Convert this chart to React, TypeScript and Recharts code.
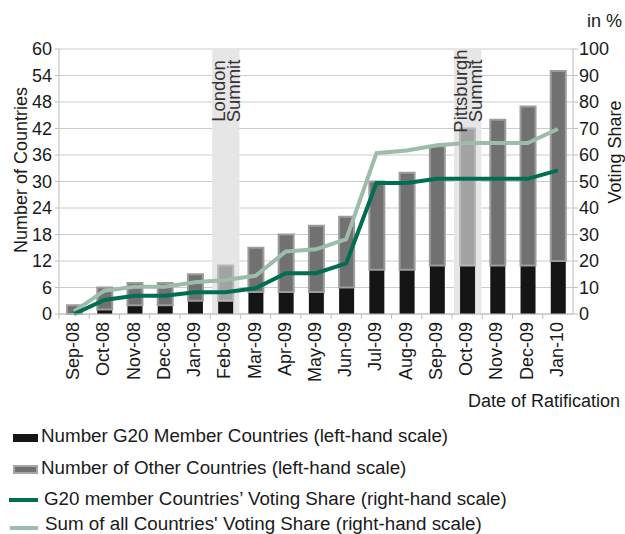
import React from "react";
import {
  ComposedChart,
  Bar,
  Line,
  XAxis,
  YAxis,
  CartesianGrid,
  Cell,
  LabelList,
} from "recharts";

// Monthly ratification counts and cumulative voting shares.
const months = [
  "Sep-08", "Oct-08", "Nov-08", "Dec-08", "Jan-09", "Feb-09", "Mar-09", "Apr-09", "May-09",
  "Jun-09", "Jul-09", "Aug-09", "Sep-09", "Oct-09", "Nov-09", "Dec-09", "Jan-10",
];
const g20Count = [0, 1, 2, 2, 3, 3, 5, 5, 5, 6, 10, 10, 11, 11, 11, 11, 12];
const otherCount = [2, 5, 5, 5, 6, 8, 10, 13, 15, 16, 20, 22, 27, 31, 33, 36, 43];
const g20Share = [0, 5.3, 6.9, 6.9, 8.2, 8.2, 9.7, 15.4, 15.4, 19.1, 49.4, 49.4, 51, 51, 51, 51, 54.2];
const sumShare = [1, 8.8, 10.3, 10.3, 12, 12.8, 14.4, 23.6, 24.4, 28.2, 60.7, 61.7, 63.7, 64.5, 64.5, 64.5, 69.8];

const summits: Record<string, string> = {
  "Feb-09": "London Summit",
  "Oct-09": "Pittsburgh Summit",
};

const leftTicks = [0, 6, 12, 18, 24, 30, 36, 42, 48, 54, 60];
const rightTicks = [0, 10, 20, 30, 40, 50, 60, 70, 80, 90, 100];

const W = 625;
const H = 534;
const LEFT_W = 59;
const RIGHT_W = 52;
const HALF_BAND = (W - LEFT_W - RIGHT_W) / months.length / 2;

const FONT = '"Liberation Sans", Arial, Helvetica, sans-serif';
const TEXT = "#1a1a1a";
const AXIS = "#bdbdbd";

const data = months.map((m, i) => ({
  month: m,
  g20: g20Count[i],
  other: otherCount[i],
  g20Share: g20Share[i],
  sumShare: sumShare[i],
  band: summits[m] ? 60 : null,
  summit: summits[m] ?? "",
}));

function MonthTick({ x, y, payload }: any) {
  return (
    <g>
      <line x1={x - HALF_BAND} x2={x - HALF_BAND} y1={y - 8} y2={y - 3} stroke={AXIS} />
      <text
        transform={`translate(${x},${y}) rotate(-90)`}
        textAnchor="end"
        dy={5}
        fontSize={18}
        fill={TEXT}
        fontFamily={FONT}
      >
        {payload.value}
      </text>
    </g>
  );
}

function SummitLabel(props: any) {
  const { x, y, width, value } = props;
  if (!value) return null;
  const cx = x + width / 2;
  const lines = String(value).split(" ");
  const offsets = [-1, 14];
  return (
    <g>
      {lines.map((t, i) => (
        <text
          key={t}
          transform={`translate(${cx + offsets[i]},${y + 42}) rotate(-90)`}
          textAnchor="middle"
          fontSize={18.5}
          fill="#333"
          fontFamily={FONT}
        >
          {t}
        </text>
      ))}
    </g>
  );
}

export default function App() {
  return (
    <div style={{ position: "absolute", left: 0, top: 0, width: W, height: H, fontFamily: FONT }}>
      <ComposedChart
        width={W}
        height={H}
        data={data}
        margin={{ top: 49, right: 0, left: 0, bottom: 160 }}
      >
        <CartesianGrid vertical={false} stroke="#cccccc" xAxisId="main" yAxisId="left" />
        <XAxis
          xAxisId="main"
          dataKey="month"
          interval={0}
          height={60}
          tickLine={false}
          axisLine={{ stroke: AXIS }}
          tick={<MonthTick />}
        />
        <XAxis xAxisId="band" dataKey="month" hide height={0} />
        <YAxis
          yAxisId="left"
          width={LEFT_W}
          domain={[0, 60]}
          ticks={leftTicks}
          interval={0}
          tickSize={4}
          tickMargin={3}
          axisLine={{ stroke: AXIS }}
          tickLine={{ stroke: AXIS }}
          tick={{ fontSize: 18, fill: TEXT, fontFamily: FONT }}
        />
        <YAxis
          yAxisId="right"
          orientation="right"
          width={RIGHT_W}
          domain={[0, 100]}
          ticks={rightTicks}
          interval={0}
          tickSize={5}
          tickMargin={1}
          axisLine={{ stroke: AXIS }}
          tickLine={{ stroke: AXIS }}
          tick={{ fontSize: 18, fill: TEXT, fontFamily: FONT, textAnchor: "start" }}
        />
        <Bar
          xAxisId="band"
          yAxisId="left"
          dataKey="band"
          barSize={35}
          fill="#e6e6e6"
          isAnimationActive={false}
        >
          <LabelList dataKey="summit" content={<SummitLabel />} />
        </Bar>
        <Bar
          xAxisId="main"
          yAxisId="left"
          dataKey="g20"
          stackId="count"
          barSize={15}
          fill="#151515"
          isAnimationActive={false}
        />
        <Bar
          xAxisId="main"
          yAxisId="left"
          dataKey="other"
          stackId="count"
          barSize={15}
          strokeWidth={2}
          isAnimationActive={false}
        >
          {data.map((d) => (
            <Cell
              key={d.month}
              fill={d.summit ? "#a3a3a3" : "#717171"}
              stroke={d.summit ? "#b8b8b8" : "#9c9c9c"}
            />
          ))}
        </Bar>
        <Line
          xAxisId="main"
          yAxisId="right"
          dataKey="sumShare"
          stroke="#9dbcaa"
          strokeWidth={4}
          dot={false}
          isAnimationActive={false}
        />
        <Line
          xAxisId="main"
          yAxisId="right"
          dataKey="g20Share"
          stroke="#006f51"
          strokeWidth={4}
          dot={false}
          isAnimationActive={false}
        />
      </ComposedChart>

      <svg
        width={W}
        height={H}
        style={{ position: "absolute", left: 0, top: 0, pointerEvents: "none" }}
        fontFamily={FONT}
        fill={TEXT}
      >
        <text x={622} y={26.5} textAnchor="end" fontSize={18}>in %</text>
        <text transform="translate(26.5,170) rotate(-90)" textAnchor="middle" fontSize={18}>
          Number of Countries
        </text>
        <text transform="translate(620.5,152) rotate(-90)" textAnchor="middle" fontSize={18}>
          Voting Share
        </text>
        <text x={620} y={406.5} textAnchor="end" fontSize={18}>Date of Ratification</text>

        <rect x={13} y={434} width={25} height={8} fill="#151515" />
        <text x={41} y={442} fontSize={18.8}>Number G20 Member Countries (left-hand scale)</text>

        <rect x={14} y={466} width={23} height={7} fill="#717171" stroke="#a5a5a5" strokeWidth={2} />
        <text x={41} y={474} fontSize={18.8}>Number of Other Countries (left-hand scale)</text>

        <line x1={9} x2={38} y1={500} y2={500} stroke="#006f51" strokeWidth={4} />
        <text x={44} y={505} fontSize={18.8}>G20 member Countries’ Voting Share (right-hand scale)</text>

        <line x1={10} x2={38} y1={528} y2={528} stroke="#9dbcaa" strokeWidth={4} />
        <text x={45} y={530} fontSize={18.8}>Sum of all Countries' Voting Share (right-hand scale)</text>
      </svg>
    </div>
  );
}
